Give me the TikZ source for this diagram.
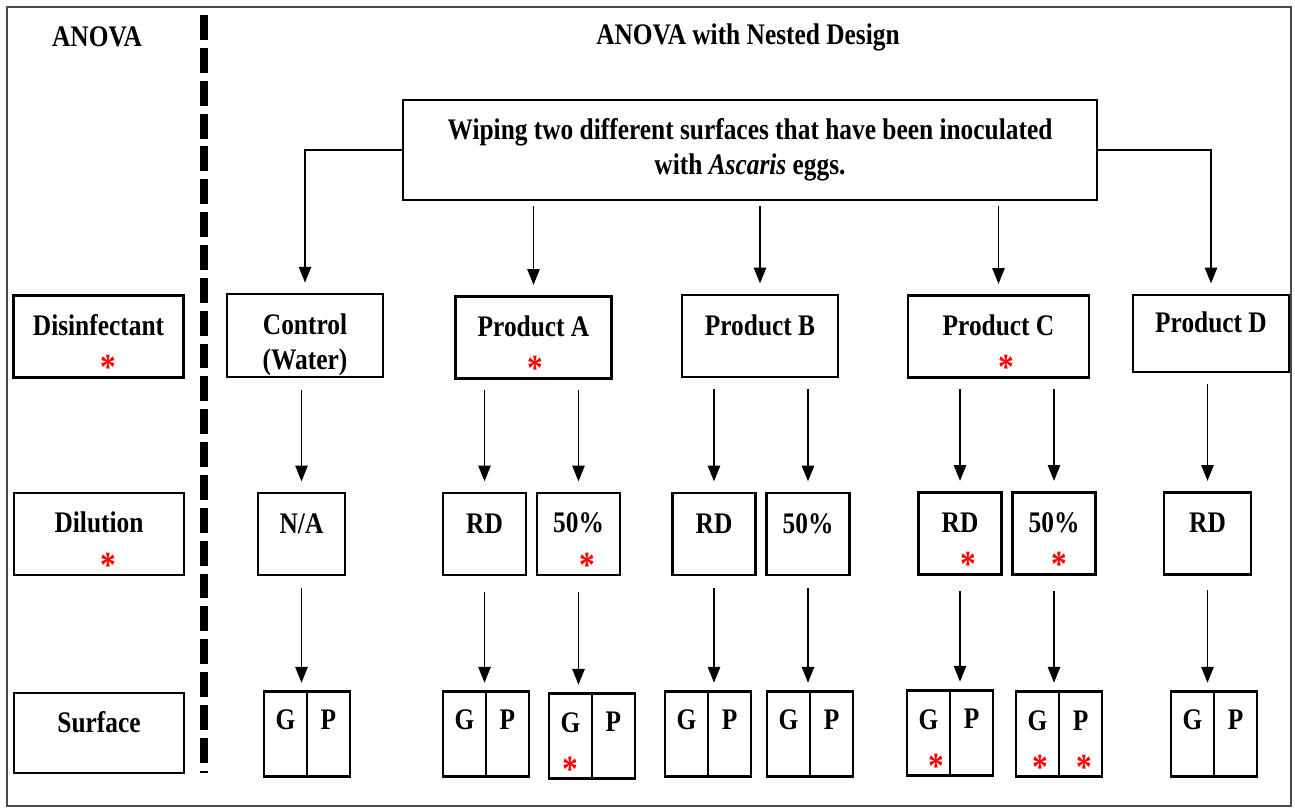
\documentclass[tikz,border=0pt]{standalone}
\usepackage{fontspec}
\setmainfont{Liberation Serif}[FakeStretch=0.85]
\usepackage{xcolor}
\usepackage{tikz}
\usetikzlibrary{arrows.meta, positioning, calc}
\definecolor{sigred}{HTML}{FF0000}
\definecolor{framegrey}{HTML}{4A4A4A}
\newcommand{\signif}{\raisebox{-2.2pt}{\textcolor{sigred}{\fontsize{21}{20}\selectfont *}}}

\begin{document}
\begin{tikzpicture}[x=0.02cm, y=-0.02cm, font=\bfseries\fontsize{17}{20}\selectfont]
    \tikzstyle{factor} = [rectangle, draw=black, line width=1.2pt, align=center, inner sep=0pt,
      minimum height=1.64cm, text height=12pt, text depth=13pt]
    \tikzstyle{starred} = [text height=44.8pt, text depth=0pt]
    \tikzstyle{level} = [factor, minimum width=3.4cm]
    \tikzstyle{prodbox} = [factor, minimum width=3.12cm]
    \tikzstyle{dilbox} = [factor, minimum width=1.66cm]
    \tikzstyle{cell} = [rectangle, draw=black, line width=1.2pt, align=center, inner sep=0pt, outer sep=0pt,
      minimum width=0.86cm, minimum height=1.7cm, text height=12pt, text depth=17pt]
    \tikzstyle{starcell} = [text height=47.5pt, text depth=0pt]
    \tikzstyle{flow} = [-{Triangle[length=9pt, width=7pt]}, line width=1pt]

    \useasboundingbox (0,0) rectangle (1295,810);
    \draw [framegrey, line width=1pt] (7,7) rectangle (1291,806);
    \draw [line width=4.5pt, dash pattern=on 14.2pt off 4.5pt] (204,15) -- (204,773);

    \node (anova)  at (97,37)  {ANOVA};
    \node (nested) at (748,37) {ANOVA with Nested Design};

    \node (wipe) [rectangle, draw=black, line width=1.2pt, align=center, minimum width=13.88cm, minimum height=2cm]
      at (750,150) {Wiping two different surfaces that have been inoculated\\with \textit{Ascaris} eggs.};

    % disinfectant level
    \node (disinf) [level, starred] at (98.5,336.5) {Disinfectant\\[3pt]\hspace*{0.4cm}\signif};
    \node (ctrl)   [prodbox, text height=43pt, text depth=4pt] at (305,335.5) {Control\\(Water)};
    \node (prodA)  [prodbox, starred] at (533.5,337.5) {Product A\\[3pt]\hspace*{0.08cm}\signif};
    \node (prodB)  [prodbox] at (760,336) {Product B};
    \node (prodC)  [prodbox, starred, minimum width=3.62cm] at (998.5,336.5) {Product C\\[3pt]\hspace*{0.32cm}\signif};
    \node (prodD)  [prodbox, minimum height=1.54cm] at (1211,333.5) {Product D};

    % dilution level
    \node (dilut) [level, starred] at (99,534) {Dilution\\[3pt]\hspace*{0.36cm}\signif};
    \node (na)  [dilbox, minimum width=1.74cm] at (301.5,534) {N/A};
    \node (aRD) [dilbox] at (484.5,534) {RD};
    \node (a50) [dilbox, starred] at (578.5,534) {50\%\\[3pt]\hspace*{0.36cm}\signif};
    \node (bRD) [dilbox] at (714,534) {RD};
    \node (b50) [dilbox] at (808,534) {50\%};
    \node (cRD) [dilbox, starred] at (960,533.5) {RD\\[3pt]\hspace*{0.32cm}\signif};
    \node (c50) [dilbox, starred] at (1054,533.5) {50\%\\[3pt]\hspace*{0.2cm}\signif};
    \node (dRD) [dilbox, minimum width=1.74cm] at (1207.5,533.5) {RD};

    % surface level
    \node (surf) [level, minimum height=1.6cm] at (99,733) {Surface};
    \node (naG)  [cell, anchor=east] at (307,734) {G};
    \node (naP)  [cell, right=0pt of naG] {P};
    \node (aRDG) [cell, anchor=east] at (486,734) {G};
    \node (aRDP) [cell, right=0pt of aRDG] {P};
    \node (a50G) [cell, starcell, anchor=east] at (592,736) {G\\[6pt]\signif};
    \node (a50P) [cell, right=0pt of a50G] {P};
    \node (bRDG) [cell, anchor=east] at (708,734) {G};
    \node (bRDP) [cell, right=0pt of bRDG] {P};
    \node (b50G) [cell, anchor=east] at (810,734) {G};
    \node (b50P) [cell, right=0pt of b50G] {P};
    \node (cRDG) [cell, starcell, anchor=east] at (950,733) {G\\[6pt]\hspace*{0.32cm}\signif};
    \node (cRDP) [cell, right=0pt of cRDG] {P};
    \node (c50G) [cell, starcell, anchor=east] at (1059,734) {G\\[6pt]\hspace*{0.12cm}\signif};
    \node (c50P) [cell, starcell, right=0pt of c50G] {P\\[6pt]\hspace*{0.16cm}\signif};
    \node (dRDG) [cell, anchor=east] at (1214,734) {G};
    \node (dRDP) [cell, right=0pt of dRDG] {P};

    % from the wiping box
    \draw [flow, shorten >=6pt] (wipe.west) -| (ctrl.north);
    \draw [flow, shorten >=6pt] (wipe.east) -| (prodD.north);
    \draw [flow, shorten <=3pt, shorten >=6pt] (wipe.south -| prodA.north) -- (prodA.north);
    \draw [flow, shorten <=3pt, shorten >=6pt] (wipe.south -| prodB.north) -- (prodB.north);
    \draw [flow, shorten <=3pt, shorten >=6pt] (wipe.south -| prodC.north) -- (prodC.north);

    % disinfectant -> dilution
    \draw [flow, shorten <=7pt, shorten >=6pt] (ctrl.south -| na.north) -- (na.north);
    \draw [flow, shorten <=6pt, shorten >=6pt] (prodA.south -| aRD.north) -- (aRD.north);
    \draw [flow, shorten <=6pt, shorten >=6pt] (prodA.south -| a50.north) -- (a50.north);
    \draw [flow, shorten <=6pt, shorten >=6pt] (prodB.south -| bRD.north) -- (bRD.north);
    \draw [flow, shorten <=6pt, shorten >=6pt] (prodB.south -| b50.north) -- (b50.north);
    \draw [flow, shorten <=6pt, shorten >=6pt] (prodC.south -| cRD.north) -- (cRD.north);
    \draw [flow, shorten <=6pt, shorten >=6pt] (prodC.south -| c50.north) -- (c50.north);
    \draw [flow, shorten <=6pt, shorten >=6pt] (prodD.south -| dRD.north) -- (dRD.north);

    % dilution -> surface
    \draw [flow, shorten <=7pt, shorten >=5pt] (na.south) -- (na.south |- naG.north);
    \draw [flow, shorten <=9pt, shorten >=5pt] (aRD.south) -- (aRD.south |- aRDG.north);
    \draw [flow, shorten <=9pt, shorten >=5pt] (a50.south) -- (a50.south |- a50G.north);
    \draw [flow, shorten <=7pt, shorten >=5pt] (bRD.south) -- (bRD.south |- bRDG.north);
    \draw [flow, shorten <=7pt, shorten >=5pt] (b50.south) -- (b50.south |- b50G.north);
    \draw [flow, shorten <=9pt, shorten >=5pt] (cRD.south) -- (cRD.south |- cRDG.north);
    \draw [flow, shorten <=9pt, shorten >=5pt] (c50.south) -- (c50.south |- c50G.north);
    \draw [flow, shorten <=8pt, shorten >=5pt] (dRD.south) -- (dRD.south |- dRDG.north);
\end{tikzpicture}
\end{document}
